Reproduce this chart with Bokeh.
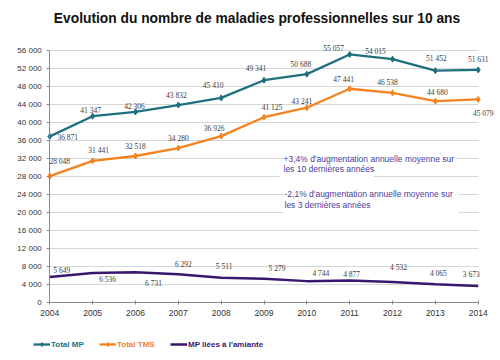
from bokeh.plotting import figure
from bokeh.models import (ColumnDataSource, LabelSet, Label, Legend, LegendItem,
                          BoxAnnotation, FixedTicker, CustomJSTickFormatter, Range1d)
from bokeh.embed import file_html
from bokeh.resources import INLINE

# ---- data ----
years = [2004, 2005, 2006, 2007, 2008, 2009, 2010, 2011, 2012, 2013, 2014]
total_mp = [36871, 41347, 42306, 43832, 45410, 49341, 50688, 55057, 54015, 51452, 51631]
total_tms = [28048, 31441, 32518, 34280, 36926, 41125, 43241, 47441, 46538, 44680, 45079]
mp_amiante = [5649, 6536, 6731, 6292, 5511, 5279, 4744, 4877, 4532, 4065, 3673]
y_ticks = list(range(0, 56001, 4000))

title_text = "Evolution du nombre de maladies professionnelles sur 10 ans"
note1 = ["+3,4% d'augmentation annuelle moyenne sur", "les 10 dernières années"]
note2 = ["-2,1% d'augmentation annuelle moyenne  sur", "les 3 dernières années"]
legend_names = ["Total MP", "Total TMS", "MP liées à l'amiante"]

# ---- layout (pixels) ----
W, H = 500, 360
X_LEFT_PX, X_RIGHT_PX = 49.3, 477.7    # where first / last year sit
Y_ZERO_PX, Y_TOP_PX = 302.0, 49.7      # where 0 / 56 000 sit
x_first, x_last = years[0], years[-1]
y_top = y_ticks[-1]
ppx = (X_RIGHT_PX - X_LEFT_PX) / (x_last - x_first)
ppy = (Y_ZERO_PX - Y_TOP_PX) / y_top
x_start = x_first - X_LEFT_PX / ppx
x_end = x_start + W / ppx
y_end = Y_ZERO_PX / ppy
y_start = -(H - Y_ZERO_PX) / ppy


def px_x(px):
    return x_start + px / ppx


def px_y(py):
    return y_end - py / ppy


# ---- styles / label offsets (screen px, y up) ----
C_MP = "#1f6f7e"
C_TMS = "#f4821f"
C_AM = "#3a1670"
C_NOTE = "#4a3c98"
C_TXT = "#3a3a3a"
FONT = "Liberation Sans"

mp_dx = [18, -2, -1, -2, -8, -8, -6, -16, -17, 1, 0]
mp_dy = [-1, 6, 5, 10, 12, 12, 10, 6, 8, 12, 10]
tms_dx = [10, 6, 0, 0, -7, 8, -5, -6, -5, 2, 5]
tms_dy = [15, 10, 9, 10, 8, 10, 6, 9, 10, 9, -14]
am_dx = [12, 15, 18, 5, 3, 13, 14, 2, 6, 3, -7]
am_dy = [7, -6, -11, 10, 11, 10, 8, 6, 15, 11, 11]


def fmt(v):
    return f"{v:,}".replace(",", " ")


p = figure(frame_width=W, frame_height=H, output_backend="svg", toolbar_location=None,
           x_range=Range1d(x_start, x_end), y_range=Range1d(y_start, y_end),
           min_border=0, background_fill_color="white",
           border_fill_color="white", outline_line_color=None)

# axes fixed inside the frame so that all texts stay unclipped
p.xaxis.fixed_location = 0
p.xaxis.bounds = (x_first, x_last)
p.yaxis.fixed_location = x_first
p.yaxis.bounds = (0, y_top)
p.xaxis.ticker = FixedTicker(ticks=years)
p.yaxis.ticker = FixedTicker(ticks=y_ticks)
p.yaxis.formatter = CustomJSTickFormatter(code="return tick.toLocaleString('en-US').replace(/,/g, ' ');")
for ax in (p.xaxis[0], p.yaxis[0]):
    ax.axis_line_color = "#8a8a8a"
    ax.major_tick_line_color = "#8a8a8a"
    ax.minor_tick_line_color = None
    ax.major_label_text_font = FONT
    ax.major_label_text_color = "#333333"
p.yaxis.major_label_text_font_size = "8px"
p.xaxis.major_label_text_font_size = "8.5px"
p.yaxis.major_tick_out = 3
p.yaxis.major_tick_in = 0
p.yaxis.major_label_standoff = 5
p.xaxis.major_tick_out = 2
p.xaxis.major_tick_in = 2
p.xaxis.major_label_standoff = 5
p.xgrid.grid_line_color = None
p.ygrid.grid_line_color = "#d6d6d6"
p.ygrid.grid_line_width = 1

# keep grid lines between first and last year
p.add_layout(BoxAnnotation(right=x_first, fill_color="white", fill_alpha=1,
                           line_alpha=0, level="underlay"))
p.add_layout(BoxAnnotation(left=x_last, fill_color="white", fill_alpha=1,
                           line_alpha=0, level="underlay"))

src = ColumnDataSource(dict(
    x=years, mp=total_mp, tms=total_tms, am=mp_amiante,
    mp_t=[fmt(v) for v in total_mp], tms_t=[fmt(v) for v in total_tms],
    am_t=[fmt(v) for v in mp_amiante],
    mp_dx=mp_dx, mp_dy=mp_dy, tms_dx=tms_dx, tms_dy=tms_dy,
    am_dx=am_dx, am_dy=am_dy))

# white boxes behind the notes (pixel boxes)
for l, r, t, b in [(283, 455, 150, 163), (279, 373, 163, 180), (283, 458, 188, 215)]:
    p.add_layout(BoxAnnotation(left=px_x(l), right=px_x(r), bottom=px_y(b), top=px_y(t),
                               fill_color="white", fill_alpha=1, line_alpha=0,
                               level="underlay"))

l_mp = p.line("x", "mp", source=src, line_color=C_MP, line_width=2.3)
s_mp = p.scatter("x", "mp", source=src, marker="diamond", size=6, color=C_MP)
l_tms = p.line("x", "tms", source=src, line_color=C_TMS, line_width=2.3)
s_tms = p.scatter("x", "tms", source=src, marker="diamond", size=6, color=C_TMS)
l_am = p.line("x", "am", source=src, line_color=C_AM, line_width=2.5)

for col, dx, dy in [("mp", "mp_dx", "mp_dy"), ("tms", "tms_dx", "tms_dy"), ("am", "am_dx", "am_dy")]:
    p.add_layout(LabelSet(x="x", y=col, text=col + "_t", source=src,
                          x_offset=dx, y_offset=dy, text_align="center",
                          text_baseline="middle", text_font=FONT,
                          text_font_size="7.5px", text_color=C_TXT))

# title
p.add_layout(Label(x=px_x(256.5), y=px_y(17.5), text=title_text, text_font=FONT,
                   text_font_size="13.8px", text_font_style="bold", text_color="#111111",
                   text_align="center", text_baseline="middle"))

# notes
for lines, x0, ys in [(note1, 283, [158.3, 168.3]), (note2, 284, [193.3, 204])]:
    for txt, yy in zip(lines, ys):
        p.add_layout(Label(x=px_x(x0), y=px_y(yy), text=txt, text_font=FONT,
                           text_font_size="8.5px", text_color=C_NOTE,
                           text_baseline="middle", text_align="left"))

# legends (one per series so the label colour matches)
for name, rends, color, lx in [(legend_names[0], [l_mp, s_mp], C_MP, 33),
                               (legend_names[1], [l_tms, s_tms], C_TMS, 99),
                               (legend_names[2], [l_am], C_AM, 170)]:
    lg = Legend(items=[LegendItem(label=name, renderers=rends)], location=(lx, 11),
                orientation="horizontal", padding=0, spacing=0, margin=0,
                glyph_width=17, glyph_height=10, label_height=10, label_standoff=1,
                label_text_font=FONT, label_text_font_size="8px",
                label_text_font_style="bold", label_text_color=color,
                background_fill_alpha=0, border_line_alpha=0)
    p.add_layout(lg, "center")

open("out.html", "w").write(file_html(p, INLINE))
